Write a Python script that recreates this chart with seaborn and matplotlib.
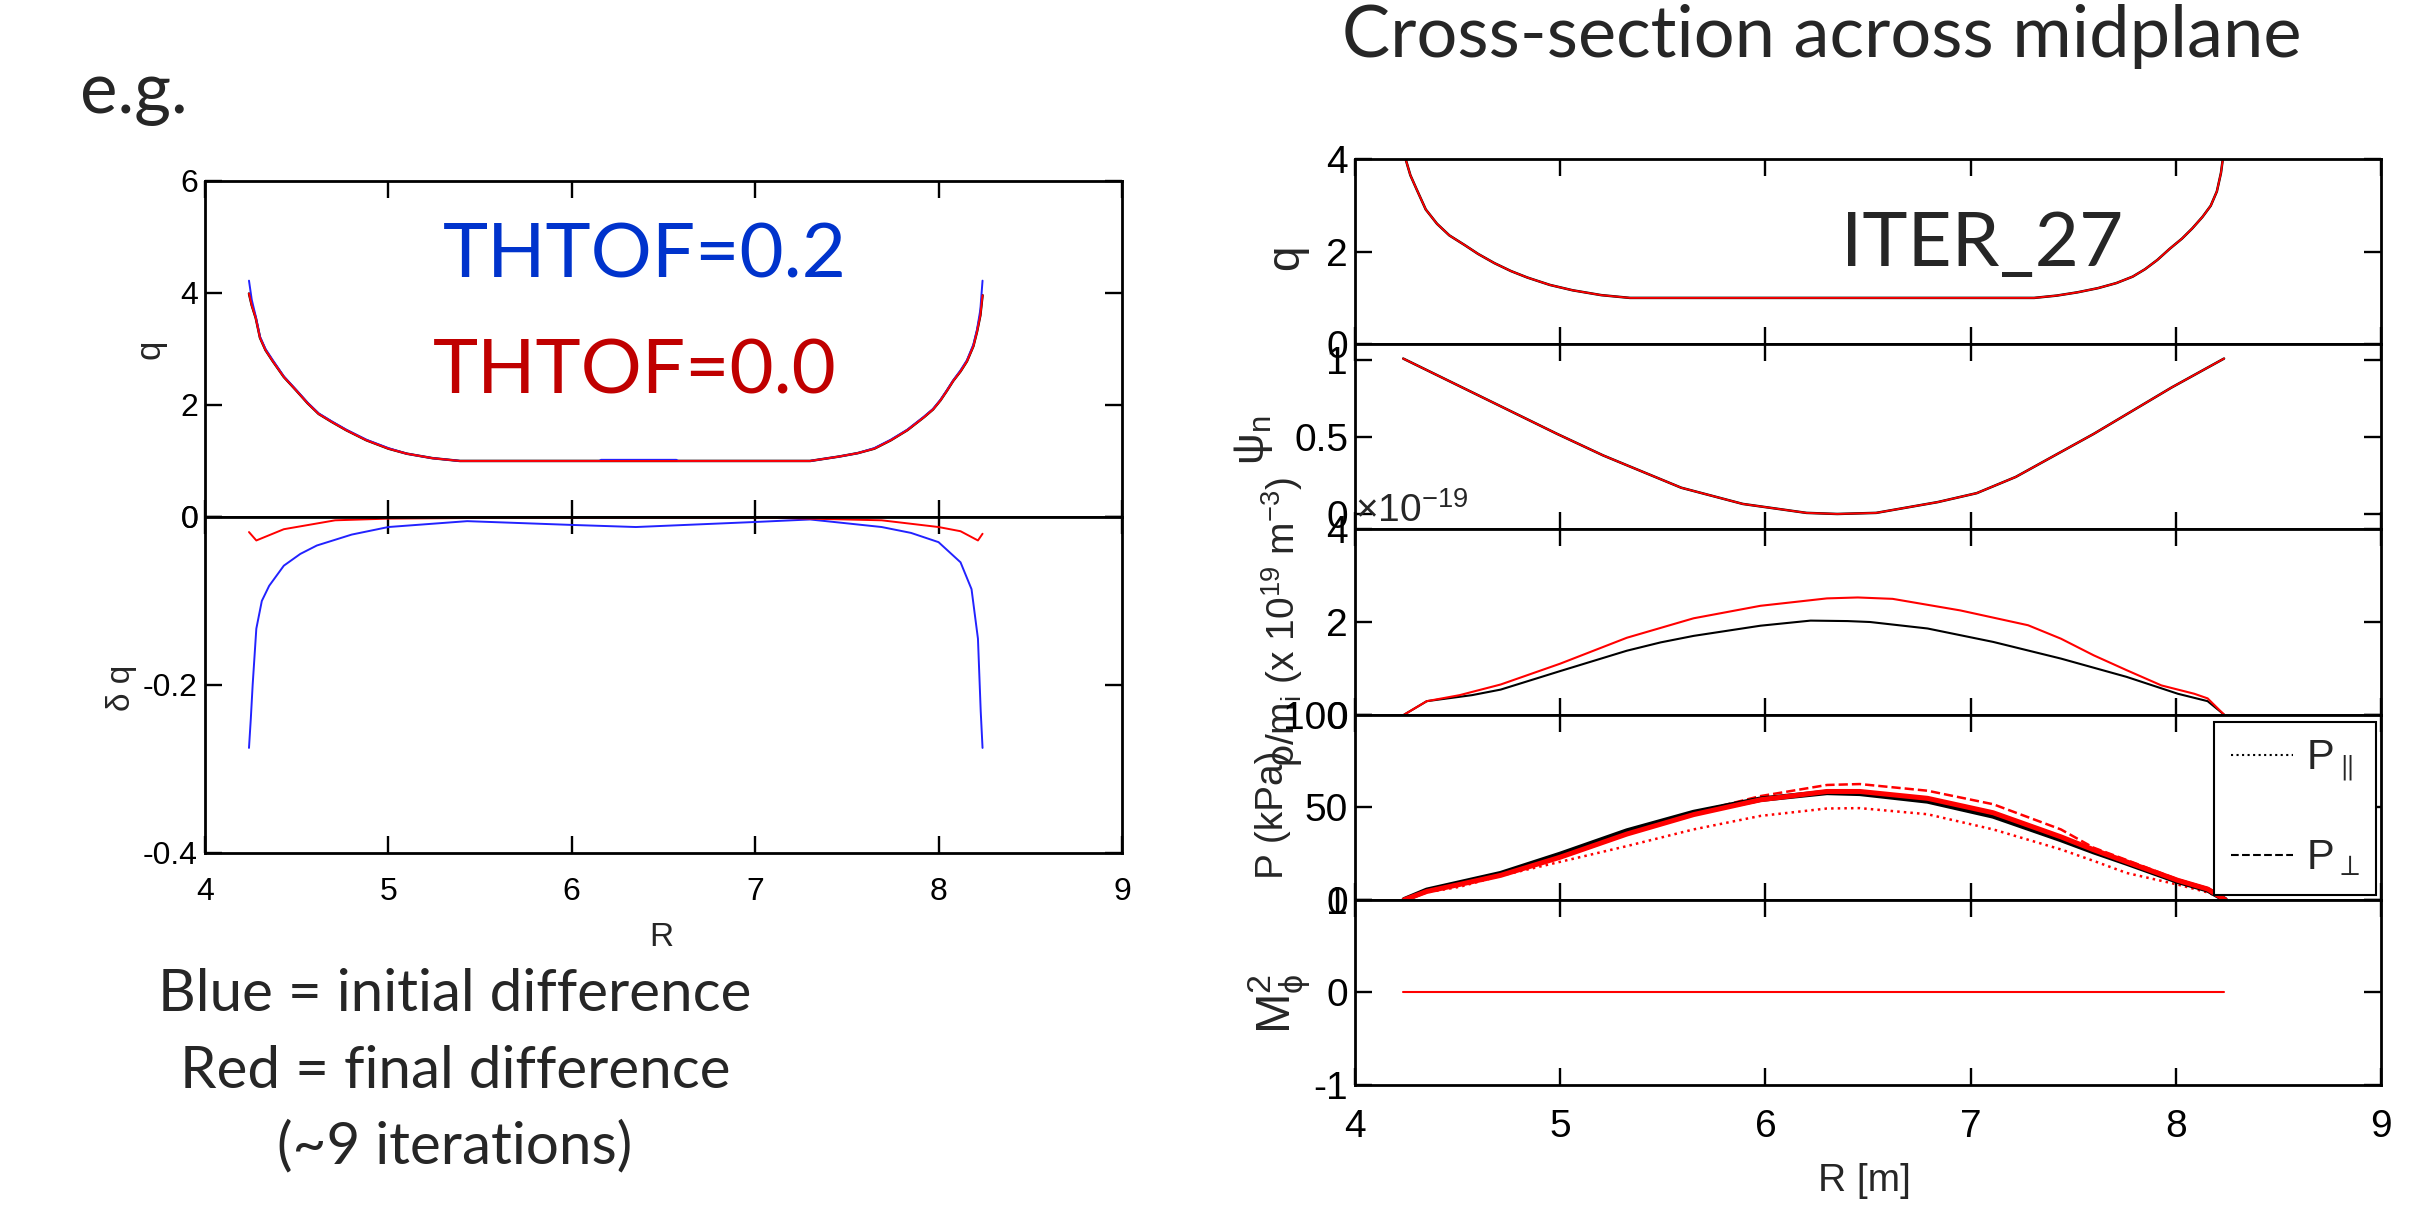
import matplotlib
matplotlib.use('Agg')
import matplotlib.pyplot as plt
from matplotlib.lines import Line2D
import seaborn as sns

# ---- left figure: q and delta q for THTOF runs ----
r_q_left = [4.24, 4.255, 4.277, 4.30, 4.33, 4.37, 4.43, 4.50, 4.56, 4.62, 4.69, 4.77, 4.88, 5.0,
            5.10, 5.24, 5.39, 6.15, 6.16, 6.57, 6.58, 7.30, 7.46, 7.56, 7.65, 7.74, 7.83, 7.92,
            7.97, 8.01, 8.045, 8.08, 8.12, 8.155, 8.19, 8.21, 8.228, 8.24]
q_final = [3.99, 3.78, 3.55, 3.2, 2.98, 2.78, 2.5, 2.25, 2.03, 1.84, 1.70, 1.55, 1.37, 1.22,
           1.13, 1.05, 1.0, 1.0, 1.0, 1.0, 1.0, 1.0, 1.08, 1.14, 1.22, 1.37, 1.55, 1.78,
           1.92, 2.08, 2.25, 2.43, 2.6, 2.78, 3.05, 3.31, 3.6, 3.96]
q_init = [4.22, 3.88, 3.58, 3.22, 3.0, 2.80, 2.51, 2.26, 2.04, 1.85, 1.71, 1.56, 1.38, 1.23,
          1.13, 1.05, 1.0, 1.0, 1.02, 1.02, 1.0, 1.0, 1.08, 1.14, 1.23, 1.38, 1.56, 1.79,
          1.93, 2.09, 2.26, 2.44, 2.62, 2.80, 3.08, 3.35, 3.7, 4.22]

r_dq_init = [4.24, 4.25, 4.26, 4.28, 4.31, 4.35, 4.43, 4.52, 4.61, 4.8, 5.0, 5.43, 6.0, 6.35,
             7.0, 7.30, 7.69, 7.85, 8.0, 8.12, 8.18, 8.215, 8.23, 8.24]
dq_init = [-0.275, -0.24, -0.2, -0.133, -0.1, -0.082, -0.058, -0.044, -0.034, -0.021, -0.012,
           -0.005, -0.0095, -0.012, -0.006, -0.003, -0.012, -0.019, -0.03, -0.054, -0.086,
           -0.145, -0.231, -0.275]
r_dq_final = [4.24, 4.28, 4.43, 4.71, 5.0, 5.6, 6.37, 7.1, 7.69, 8.0, 8.12, 8.215, 8.24]
dq_final = [-0.018, -0.028, -0.0146, -0.004, -0.002, -0.001, -0.001, -0.001, -0.004, -0.012,
            -0.017, -0.028, -0.02]

# ---- right figure: midplane cross-section ----
r_q_right = [4.235, 4.25, 4.27, 4.30, 4.345, 4.40, 4.46, 4.535, 4.60, 4.68, 4.76, 4.84, 4.95,
             5.06, 5.20, 5.34, 7.31, 7.42, 7.52, 7.62, 7.71, 7.79, 7.85, 7.91, 7.97, 8.03,
             8.08, 8.13, 8.17, 8.20, 8.22, 8.235]
q_right = [4.2, 3.95, 3.65, 3.35, 2.91, 2.6, 2.35, 2.14, 1.95, 1.75, 1.58, 1.44, 1.28,
           1.165, 1.06, 1.0, 1.0, 1.05, 1.12, 1.21, 1.32, 1.46, 1.62, 1.82, 2.06, 2.28,
           2.5, 2.75, 2.99, 3.3, 3.7, 4.2]

r_psi = [4.235, 4.985, 5.21, 5.59, 5.89, 6.20, 6.35, 6.54, 6.84, 7.03, 7.22, 7.60, 7.98, 8.235]
psi_n = [1.007, 0.519, 0.379, 0.17, 0.065, 0.007, 0.0, 0.007, 0.077, 0.135, 0.24, 0.519, 0.82, 1.007]

r_rho = [4.24, 4.35, 4.51, 4.71, 5.0, 5.325, 5.65, 5.976, 6.30, 6.45, 6.62, 6.95, 7.28, 7.44,
         7.60, 7.76, 7.93, 8.09, 8.155, 8.235]
rho_red = [0, 0.29, 0.42, 0.65, 1.10, 1.66, 2.08, 2.35, 2.51, 2.53, 2.50, 2.25, 1.93, 1.64,
           1.28, 0.96, 0.63, 0.45, 0.35, 0]
r_rho_blk = [4.24, 4.35, 4.57, 4.71, 5.0, 5.325, 5.49, 5.65, 5.976, 6.22, 6.40, 6.51, 6.79,
             7.11, 7.44, 7.76, 8.01, 8.155, 8.235]
rho_blk = [0, 0.29, 0.42, 0.54, 0.94, 1.38, 1.56, 1.70, 1.92, 2.03, 2.02, 2.0, 1.86, 1.57,
           1.21, 0.815, 0.45, 0.29, 0]

r_p = [4.24, 4.35, 4.51, 4.71, 5.0, 5.325, 5.65, 5.976, 6.30, 6.46, 6.79, 7.11, 7.44, 7.60,
       7.76, 8.01, 8.155, 8.24]
p_blk = [0, 5.1, 9.1, 14.1, 24.5, 37.1, 47.1, 54.3, 58.0, 57.5, 53.4, 45.3, 32.6, 26.0,
         19.9, 10, 5.4, 0]
p_red = [0, 4.5, 8.3, 13.2, 23.0, 35.5, 46.0, 54.0, 58.5, 58.5, 54.8, 47.0, 34.0, 27.0,
         20.5, 10.5, 5.8, 0]
p_perp = [0, 4.6, 8.6, 13.5, 23.5, 36.0, 47.0, 56.0, 62.0, 62.5, 58.9, 51.6, 38.0, 28.1,
          21.5, 11, 6, 0]
p_par = [0, 4.0, 7.0, 13.0, 20.5, 29.0, 38.0, 45.3, 49.3, 49.5, 46.2, 38.0, 27.2, 21.0,
         14.5, 8.2, 4.0, 0]

r_m = [4.235, 8.235]
m_phi2 = [0, 0]

R_TICKS = [4, 5, 6, 7, 8, 9]

sns.set_theme(style='ticks')
plt.rcParams['font.family'] = ['Liberation Sans', 'DejaVu Sans']
plt.rcParams['axes.unicode_minus'] = False
plt.rcParams['mathtext.fontset'] = 'custom'
plt.rcParams['mathtext.rm'] = 'Liberation Sans'
plt.rcParams['mathtext.it'] = 'Liberation Sans:italic'
plt.rcParams['mathtext.default'] = 'regular'
plt.rcParams['axes.edgecolor'] = 'black'
plt.rcParams['axes.linewidth'] = 2.0

TITLE_FONT = ['Lato', 'DejaVu Sans']


def style(ax, fs, xlab=False):
    ax.set_xlim(4, 9)
    ax.set_xticks(R_TICKS)
    ax.tick_params(which='both', direction='in', top=True, right=True, length=12.5,
                   width=1.7, labelsize=fs, colors='black')
    ax.tick_params(axis='x', pad=17, labelbottom=xlab)
    ax.tick_params(axis='y', pad=5)
    ax.set_xlabel('')
    ax.set_ylabel('')


def line(ax, x, y, color, lw=1.4, ls='-'):
    sns.lineplot(x=x, y=y, ax=ax, color=color, lw=lw, linestyle=ls,
                 estimator=None, sort=False, legend=False)


fig = plt.figure(figsize=(24.2, 12.32), dpi=100)

# left, top: q
ax_q = fig.add_axes([0.0847, 0.5804, 0.3789, 0.2727])
line(ax_q, r_q_left, q_final, 'black', lw=1.8)
line(ax_q, r_q_left, q_init, '#2222ff', lw=1.4)
line(ax_q, r_q_left, q_final, 'red', lw=1.4)
style(ax_q, 23)
ax_q.set_ylim(0, 6)
ax_q.set_yticks([0, 2, 4, 6])
ax_q.set_ylabel('q', fontsize=25)
ax_q.yaxis.set_label_coords(-0.042, 0.5)

# left, bottom: delta q
ax_dq = fig.add_axes([0.0847, 0.3077, 0.3789, 0.2727])
line(ax_dq, r_dq_init, dq_init, '#2222ff', lw=1.4)
line(ax_dq, r_dq_final, dq_final, 'red', lw=1.4)
style(ax_dq, 23, xlab=True)
ax_dq.set_ylim(-0.4, 0)
ax_dq.set_yticks([-0.4, -0.2, 0])
ax_dq.set_yticklabels(['-0.4', '-0.2', '0'])
ax_dq.set_ylabel('δ q', fontsize=24)
ax_dq.yaxis.set_label_coords(-0.074, 0.49)
ax_dq.set_xlabel('R', fontsize=24)
ax_dq.xaxis.set_label_coords(0.498, -0.205)

# right stack
rx, rw, rh = 0.5599, 0.4240, 0.15032
tops = [159, 344.2, 529.4, 714.6, 899.8]
axs = [fig.add_axes([rx, 1 - (t + 185.2) / 1232, rw, rh]) for t in tops]
a1, a2, a3, a4, a5 = axs

line(a1, r_q_right, q_right, 'black', lw=1.8)
line(a1, r_q_right, q_right, 'red', lw=1.3)
style(a1, 28)
a1.set_ylim(0, 4)
a1.set_yticks([0, 2, 4])
a1.set_ylabel('q', fontsize=33)
a1.yaxis.set_label_coords(-0.046, 0.47)

line(a2, r_psi, psi_n, 'black', lw=1.8)
line(a2, r_psi, psi_n, 'red', lw=1.3)
style(a2, 28)
a2.set_ylim(-0.1, 1.1)
a2.set_yticks([0, 0.5, 1])
a2.set_yticklabels(['0', '0.5', '1'])
a2.set_ylabel(r'$\psi_n$', fontsize=32)
a2.yaxis.set_label_coords(-0.078, 0.48)

line(a3, r_rho_blk, rho_blk, 'black', lw=1.5)
line(a3, r_rho, rho_red, 'red', lw=1.5)
style(a3, 28)
a3.set_ylim(0, 4)
a3.set_yticks([0, 2, 4])
a3.set_ylabel(r'$\rho/m_i$ (x 10$^{19}$ m$^{-3}$)', fontsize=28)
a3.yaxis.set_label_coords(-0.049, 0.5)
a3.text(0.0, 1.04, r'$\times$10$^{-19}$', transform=a3.transAxes, fontsize=28,
        ha='left', va='baseline')

line(a4, r_p, p_par, 'red', lw=1.8, ls=':')
line(a4, r_p, p_perp, 'red', lw=1.8, ls='--')
line(a4, r_p, p_blk, 'black', lw=4.0)
line(a4, r_p, p_red, 'red', lw=3.6)
style(a4, 28)
a4.set_ylim(0, 100)
a4.set_yticks([0, 50, 100])
a4.set_ylabel('P (kPa)', fontsize=28)
a4.yaxis.set_label_coords(-0.062, 0.46)
handles = [Line2D([], [], color='black', lw=1.5, ls=':'),
           Line2D([], [], color='black', lw=1.5, ls='--')]
leg = a4.legend(handles, [r'$P_{\parallel}$', r'$P_{\perp}$'], loc='lower right',
                bbox_to_anchor=(0.995, 0.027), fontsize=30, frameon=True, fancybox=False,
                edgecolor='black', framealpha=1, handlelength=1.5, handletextpad=0.3,
                labelspacing=1.3, borderpad=0.4, borderaxespad=0)
leg.get_frame().set_linewidth(1.5)

line(a5, r_m, m_phi2, 'red', lw=1.5)
style(a5, 28, xlab=True)
a5.set_ylim(-1, 1)
a5.set_yticks([-1, 0, 1])
a5.set_ylabel(r'$M^2_\phi$', fontsize=35)
a5.yaxis.set_label_coords(-0.042, 0.44)
a5.set_xlabel('R [m]', fontsize=28)
a5.xaxis.set_label_coords(0.497, -0.42)

# slide text
fig.text(80 / 2420, 1 - 113 / 1232, 'e.g.', fontsize=51, family=TITLE_FONT,
         ha='left', va='baseline')
fig.text(1822 / 2420, 1 - 57 / 1232, 'Cross-section across midplane', fontsize=52,
         family=TITLE_FONT, ha='center', va='baseline')
fig.text(1982 / 2420, 1 - 266 / 1232, 'ITER_27', fontsize=55, family=TITLE_FONT,
         ha='center', va='baseline')
fig.text(645 / 2420, 1 - 277 / 1232, 'THTOF=0.2', fontsize=55, family=TITLE_FONT,
         color='#0033cc', ha='center', va='baseline')
fig.text(635 / 2420, 1 - 393 / 1232, 'THTOF=0.0', fontsize=55, family=TITLE_FONT,
         color='#c00000', ha='center', va='baseline')
for txt, base in [('Blue = initial difference', 1011), ('Red = final difference', 1088),
                  ('(~9 iterations)', 1163)]:
    fig.text(455 / 2420, 1 - base / 1232, txt, fontsize=42, family=TITLE_FONT,
             ha='center', va='baseline')

fig.savefig('out.png', dpi=100, facecolor='white')
